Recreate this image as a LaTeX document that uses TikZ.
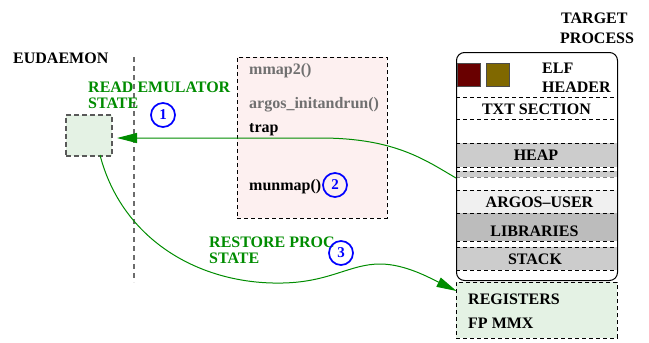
\documentclass[tikz,border=0pt]{standalone}
\usepackage{fontspec}
\setmainfont{Liberation Serif}
\usetikzlibrary{arrows.meta}
\definecolor{grn}{RGB}{0,140,0}
\definecolor{lgreen}{RGB}{228,242,228}
\definecolor{lpink}{RGB}{253,240,240}
\definecolor{dred}{RGB}{105,0,0}
\definecolor{olivec}{RGB}{128,104,0}
\definecolor{gtext}{RGB}{112,112,112}
\definecolor{bandA}{RGB}{204,204,204}
\definecolor{bandB}{RGB}{240,240,240}
\definecolor{bandC}{RGB}{188,188,188}
\begin{document}
\begin{tikzpicture}[x=1pt,y=-1pt,
  every node/.style={font=\fontsize{16}{16}\selectfont\bfseries, inner sep=0pt},
  lbl/.style={anchor=base west},
  clbl/.style={anchor=base},
  glbl/.style={anchor=base west, text=grn},
  numc/.style={circle, draw=blue, line width=1.7pt, minimum size=24pt, text=blue,
    font=\fontsize{15}{15}\selectfont\bfseries},
  sep/.style={dash pattern=on 4pt off 3pt, line width=0.8pt},
  flow/.style={draw=grn, line width=1pt, -{Triangle[length=20pt,width=10pt]}, fill=none},
]
\useasboundingbox (0,0) rectangle (649,343);

% Eudaemon side
\node[lbl] (eud) at (13,63) {EUDAEMON};
\coordinate (vt) at (134,57);
\coordinate (vb) at (134,282);
\draw[draw=gray!85!black, line width=1.2pt, dash pattern=on 5pt off 4pt] (vt) -- (vb);

\node[draw=black!65, fill=lgreen, line width=1.6pt, dash pattern=on 5pt off 3pt,
      minimum width=46pt, minimum height=41pt, anchor=north west] (eb) at (65,114) {};

\node[glbl] (read1) at (88,92.5) {READ EMULATOR};
\node[glbl] (read2) at (88,108.5) {STATE};
\node[numc] (c1) at (163,115) {1};

% Pink box
\node[draw=black, fill=lpink, sep, minimum width=150pt, minimum height=161pt,
      anchor=north west] (pk) at (237,57) {};
\node[lbl, text=gtext] (mmap) at (249,74) {mmap2()};
\node[lbl, text=gtext] (argos) at (249,108) {argos\_initandrun()};
\node[lbl] (trap) at (249,132) {trap};
\node[lbl] (munmap) at (249,190) {munmap()};
\node[numc] (c2) at (335,185) {2};

% Target process
\node[lbl] (tgt1) at (561,23) {TARGET};
\node[lbl] (tgt2) at (560,43) {PROCESS};

\fill[bandA] (456,143) rectangle (617,167);
\fill[bandA] (456,171) rectangle (617,177);
\fill[bandB] (456,190) rectangle (617,213);
\fill[bandC] (456,213) rectangle (617,241);
\fill[bandA] (456,247) rectangle (617,270);

\foreach \yy in {97,119,143,167,171,190,213,241,247,270}
  \draw[sep] (456,\yy) -- (617,\yy);
\draw[sep, draw=gray] (456,177) -- (617,177);

\node[draw=black, line width=1pt, rounded corners=8pt, minimum width=161pt,
      minimum height=228pt, anchor=north west] (tp) at (456,52) {};

\node[draw=black!70, fill=dred, line width=0.8pt, minimum size=23pt, anchor=north west] (sq1) at (457,63) {};
\node[draw=black!70, fill=olivec, line width=0.8pt, minimum size=23pt, anchor=north west] (sq2) at (485.5,63) {};
\node[lbl] (elf1) at (542,73) {ELF};
\node[lbl] (elf2) at (542,92) {HEADER};
\node[clbl] (txt) at (536.5,114) {TXT SECTION};
\node[clbl] (heap) at (536,160) {HEAP};
\node[clbl] (au) at (539.5,207) {ARGOS–USER};
\node[clbl] (lib) at (534.5,236) {LIBRARIES};
\node[clbl] (stk) at (535,264) {STACK};

% Registers
\node[draw=black, fill=lgreen, sep, minimum width=161pt, minimum height=56pt,
      anchor=north west] (reg) at (456,282) {};
\node[lbl] (r1) at (468,304) {REGISTERS};
\node[lbl] (r2) at (468,328) {FP MMX};

% Restore label
\node[glbl] (rest1) at (209,247) {RESTORE PROC};
\node[glbl] (rest2) at (209,263) {STATE};
\node[numc] (c3) at (341,253) {3};

% Connectors
\coordinate (rs) at (456,178);
\coordinate (re) at (117,138);
\draw[flow] (rs) .. controls (425,160) and (395,138) .. (320,138) -- (re);

\coordinate (es) at (100,155);
\coordinate (ee) at (456.5,291);
\draw[flow] (es) .. controls (122,240) and (200,285) .. (283,283)
  .. controls (330,282) and (350,264) .. (380,264)
  .. controls (405,264) and (430,278) .. (ee);
\end{tikzpicture}
\end{document}
